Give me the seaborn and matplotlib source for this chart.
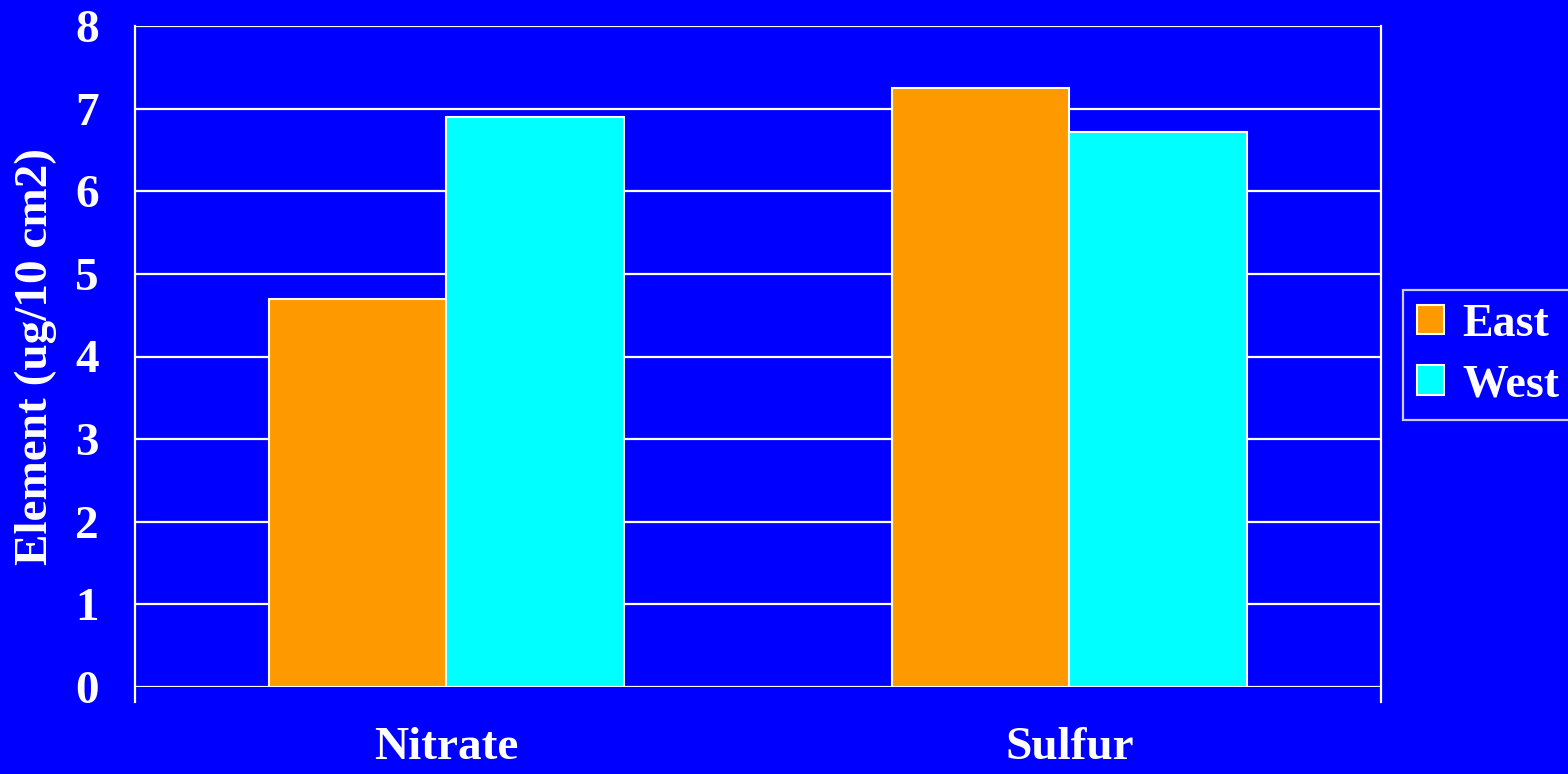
import matplotlib
matplotlib.use("Agg")
import matplotlib.pyplot as plt
import seaborn as sns
import pandas as pd
from matplotlib.patches import Patch

# Data
categories = ["Nitrate", "Sulfur"]
regions = ["East", "West"]
east_values = [4.7, 7.25]
west_values = [6.9, 6.72]
y_ticks = [0, 1, 2, 3, 4, 5, 6, 7, 8]
y_label = "Element (ug/10 cm2)"

BG = "#0000FF"
PALETTE = {"East": "#FF9900", "West": "#00FFFF"}

df = pd.DataFrame({
    "Element": categories * 2,
    "Region": ["East"] * len(categories) + ["West"] * len(categories),
    "Value": east_values + west_values,
})

sns.set_theme(style="white")
plt.rcParams["font.family"] = ["Liberation Serif", "DejaVu Serif"]
plt.rcParams["font.weight"] = "bold"

fig = plt.figure(figsize=(15.68, 7.74), dpi=100, facecolor=BG)
ax = fig.add_axes([135 / 1568, 1 - 687 / 774, (1381 - 135) / 1568, (687 - 26) / 774])
ax.set_facecolor(BG)

sns.barplot(data=df, x="Element", y="Value", hue="Region", hue_order=regions,
            palette=PALETTE, width=0.571, edgecolor="white", linewidth=1.5,
            saturation=1, ax=ax, legend=False, zorder=3)

ax.set_ylim(0, 8)
ax.set_xlim(-0.5, 1.5)
ax.set_yticks(y_ticks)
ax.set_yticklabels([str(t) for t in y_ticks], fontsize=34, fontweight="bold", color="white")
ax.yaxis.grid(True, color="white", linewidth=1.6, zorder=0)
ax.set_axisbelow(True)

# Category labels sit between boundary ticks
ax.set_xticks([-0.5, 0.5, 1.5])
ax.set_xticklabels([])
ax.set_xticks([0, 1], minor=True)
ax.set_xticklabels(categories, minor=True, fontsize=34, fontweight="bold", color="white")
ax.tick_params(axis="x", which="major", length=15, width=1.6, color="white", direction="out")
ax.tick_params(axis="x", which="minor", length=0, pad=29)
ax.tick_params(axis="y", length=15, width=1.6, color="white", direction="out", pad=11)

for side in ["left", "right"]:
    ax.spines[side].set_color("white")
    ax.spines[side].set_linewidth(1.6)
    ax.spines[side].set_bounds(-15 / 82.6, 8)
ax.spines["top"].set_visible(False)
ax.spines["bottom"].set_visible(False)

ax.set_xlabel("")
ax.set_ylabel(y_label, fontsize=34, fontweight="bold", color="white", labelpad=13)

# Legend
handles = [Patch(facecolor=PALETTE[r], edgecolor="white", linewidth=1.5) for r in regions]
leg = fig.legend(handles, regions, loc="center left",
                 bbox_to_anchor=(1403 / 1568, 1 - 355 / 774),
                 frameon=True, fancybox=False, facecolor=BG, edgecolor="white",
                 prop={"family": "Liberation Serif", "weight": "bold", "size": 33},
                 handlelength=0.6, handleheight=0.6, handletextpad=0.4,
                 labelspacing=0.4, borderpad=0.3, borderaxespad=0)
leg.get_frame().set_linewidth(1.6)
for t in leg.get_texts():
    t.set_color("white")

fig.savefig("out.png", dpi=100, facecolor=BG)
